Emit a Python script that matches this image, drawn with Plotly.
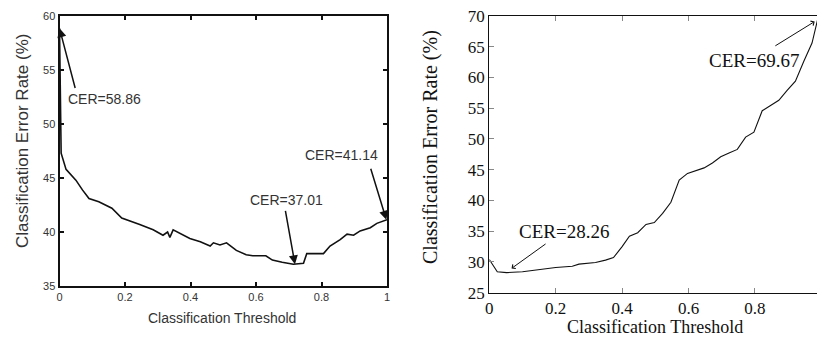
import plotly.graph_objects as go

# Left chart data
left_x = [0.0, 0.005, 0.02, 0.05, 0.07, 0.09, 0.12, 0.16, 0.19, 0.22, 0.245, 0.286, 0.316,
          0.33, 0.337, 0.347, 0.367, 0.398, 0.43, 0.46, 0.47, 0.49, 0.51, 0.54, 0.57, 0.59,
          0.63, 0.65, 0.68, 0.714, 0.745, 0.755, 0.776, 0.806, 0.826, 0.857, 0.878, 0.898,
          0.918, 0.949, 0.969, 1.0]
left_y = [58.86, 47.3, 45.8, 44.8, 43.9, 43.1, 42.8, 42.2, 41.3, 41.0, 40.7, 40.2, 39.7,
          40.0, 39.5, 40.2, 39.9, 39.4, 39.1, 38.7, 39.0, 38.8, 39.0, 38.3, 37.9, 37.8,
          37.8, 37.4, 37.2, 37.01, 37.1, 38.0, 38.0, 38.0, 38.7, 39.3, 39.8, 39.7,
          40.1, 40.4, 40.8, 41.14]

# Right chart data
right_x = [0.0, 0.024, 0.052, 0.10, 0.20, 0.25, 0.27, 0.32, 0.35, 0.374, 0.40, 0.422, 0.447,
           0.472, 0.497, 0.522, 0.547, 0.572, 0.597, 0.622, 0.647, 0.672, 0.697, 0.722,
           0.747, 0.772, 0.797, 0.822, 0.847, 0.872, 0.897, 0.922, 0.947, 0.972, 0.99]
right_y = [30.4, 28.4, 28.26, 28.4, 29.1, 29.3, 29.65, 29.9, 30.3, 30.7, 32.5, 34.2, 34.75,
           36.1, 36.4, 37.9, 39.7, 43.3, 44.4, 44.8, 45.3, 46.1, 47.1, 47.7,
           48.3, 50.3, 51.1, 54.6, 55.4, 56.3, 57.9, 59.4, 62.6, 65.6, 69.67]

left_ticks_x = [0, 0.2, 0.4, 0.6, 0.8, 1]
left_ticklabels_x = ["0", "0.2", "0.4", "0.6", "0.8", "1"]
left_ticks_y = [35, 40, 45, 50, 55, 60]
right_ticks_x = [0, 0.2, 0.4, 0.6, 0.8]
right_ticklabels_x = ["0", "0.2", "0.4", "0.6", "0.8"]
right_ticks_y = [25, 30, 35, 40, 45, 50, 55, 60, 65, 70]

x_title = "Classification Threshold"
y_title = "Classification Error Rate (%)"

W, H = 817, 337
def px(x):
    return x / W
def py(y):
    return 1 - y / H

SANS = "Liberation Sans, Arial, sans-serif"
SERIF = "Liberation Serif, DejaVu Serif, serif"

fig = go.Figure()
fig.add_trace(go.Scatter(x=left_x, y=left_y, mode="lines",
                         line=dict(color="#111", width=1.6), xaxis="x", yaxis="y",
                         showlegend=False, hoverinfo="skip"))
fig.add_trace(go.Scatter(x=right_x, y=right_y, mode="lines",
                         line=dict(color="#111", width=1.1), xaxis="x2", yaxis="y2",
                         showlegend=False, hoverinfo="skip"))

fig.update_layout(
    width=W, height=H, autosize=False,
    margin=dict(l=0, r=0, t=0, b=0, pad=0),
    paper_bgcolor="white", plot_bgcolor="white",
    showlegend=False,
    xaxis=dict(domain=[px(59.5), px(387)], range=[0, 1], tickvals=left_ticks_x,
               ticktext=left_ticklabels_x, ticks="inside", ticklen=4, tickwidth=1.5,
               tickcolor="#111", showline=True, linecolor="#111", linewidth=2,
               mirror="ticks", showgrid=False, zeroline=False, automargin=False,
               tickfont=dict(family=SANS, size=11, color="#333"), anchor="y"),
    yaxis=dict(domain=[py(286), py(16)], range=[35, 60], tickvals=left_ticks_y,
               ticks="inside", ticklen=4, tickwidth=1.5, tickcolor="#111",
               showline=True, linecolor="#111", linewidth=2, mirror="ticks",
               showgrid=False, zeroline=False, automargin=False,
               tickfont=dict(family=SANS, size=11, color="#333"), anchor="x"),
    xaxis2=dict(domain=[px(489.3), 1], range=[0, 0.987], tickvals=right_ticks_x,
                ticktext=right_ticklabels_x, ticks="inside", ticklen=5, tickwidth=1,
                tickcolor="#888", showline=True, linecolor="#111", linewidth=1.2,
                mirror="ticks", showgrid=False, zeroline=False, automargin=False,
                tickfont=dict(family=SERIF, size=17, color="#111"), anchor="y2"),
    yaxis2=dict(domain=[py(292.7), py(16)], range=[25, 70], tickvals=right_ticks_y,
                ticks="inside", ticklen=5, tickwidth=1, tickcolor="#888",
                showline=True, linecolor="#111", linewidth=1.2, mirror=False,
                showgrid=False, zeroline=False, automargin=False,
                tickfont=dict(family=SERIF, size=17, color="#111"), anchor="x2"),
)

ann = []
# axis titles
ann.append(dict(text=x_title, x=px(222), y=py(318), xref="paper", yref="paper",
                xanchor="center", yanchor="middle",
                showarrow=False, font=dict(family=SANS, size=14, color="#333")))
ann.append(dict(text=y_title, x=px(22), y=py(141), xref="paper", yref="paper",
                xanchor="center", yanchor="middle",
                showarrow=False, textangle=-90, font=dict(family=SANS, size=17, color="#333")))
ann.append(dict(text=x_title, x=px(655), y=py(327), xref="paper", yref="paper",
                xanchor="center", yanchor="middle",
                showarrow=False, font=dict(family=SERIF, size=18, color="#111")))
ann.append(dict(text=y_title, x=px(430), y=py(147), xref="paper", yref="paper",
                xanchor="center", yanchor="middle",
                showarrow=False, textangle=-90, font=dict(family=SERIF, size=20, color="#111")))

# left labels and arrows
left_labels = [("CER=58.86", 0.138, 52.3, 0.049, 53.2, 0.0, 58.86),
               ("CER=37.01", 0.694, 43.0, 0.689, 42.1, 0.719, 37.01),
               ("CER=41.14", 0.86, 47.1, 0.949, 46.0, 0.998, 41.14)]
for t, tx, ty, ax, ay, hx, hy in left_labels:
    ann.append(dict(text=t, x=tx, y=ty, xref="x", yref="y", showarrow=False,
                    xanchor="center", yanchor="middle",
                    font=dict(family=SANS, size=14, color="#333")))
    ann.append(dict(text="", x=hx, y=hy, ax=ax, ay=ay, xref="x", yref="y", axref="x",
                    ayref="y", showarrow=True, arrowhead=2, arrowsize=1.2, arrowwidth=1.5,
                    arrowcolor="#111"))

right_labels = [("CER=28.26", 0.224, 34.9, 0.174, 33.1, 0.067, 28.95),
                ("CER=69.67", 0.797, 62.8, 0.857, 65.0, 0.98, 69.1)]
for t, tx, ty, ax, ay, hx, hy in right_labels:
    ann.append(dict(text=t, x=tx, y=ty, xref="x2", yref="y2", showarrow=False,
                    xanchor="center", yanchor="middle",
                    font=dict(family=SERIF, size=19, color="#111")))
    ann.append(dict(text="", x=hx, y=hy, ax=ax, ay=ay, xref="x2", yref="y2", axref="x2",
                    ayref="y2", showarrow=True, arrowhead=4, arrowsize=1, arrowwidth=1,
                    arrowcolor="#111"))

fig.update_layout(annotations=ann)
fig.write_html("out.html")
